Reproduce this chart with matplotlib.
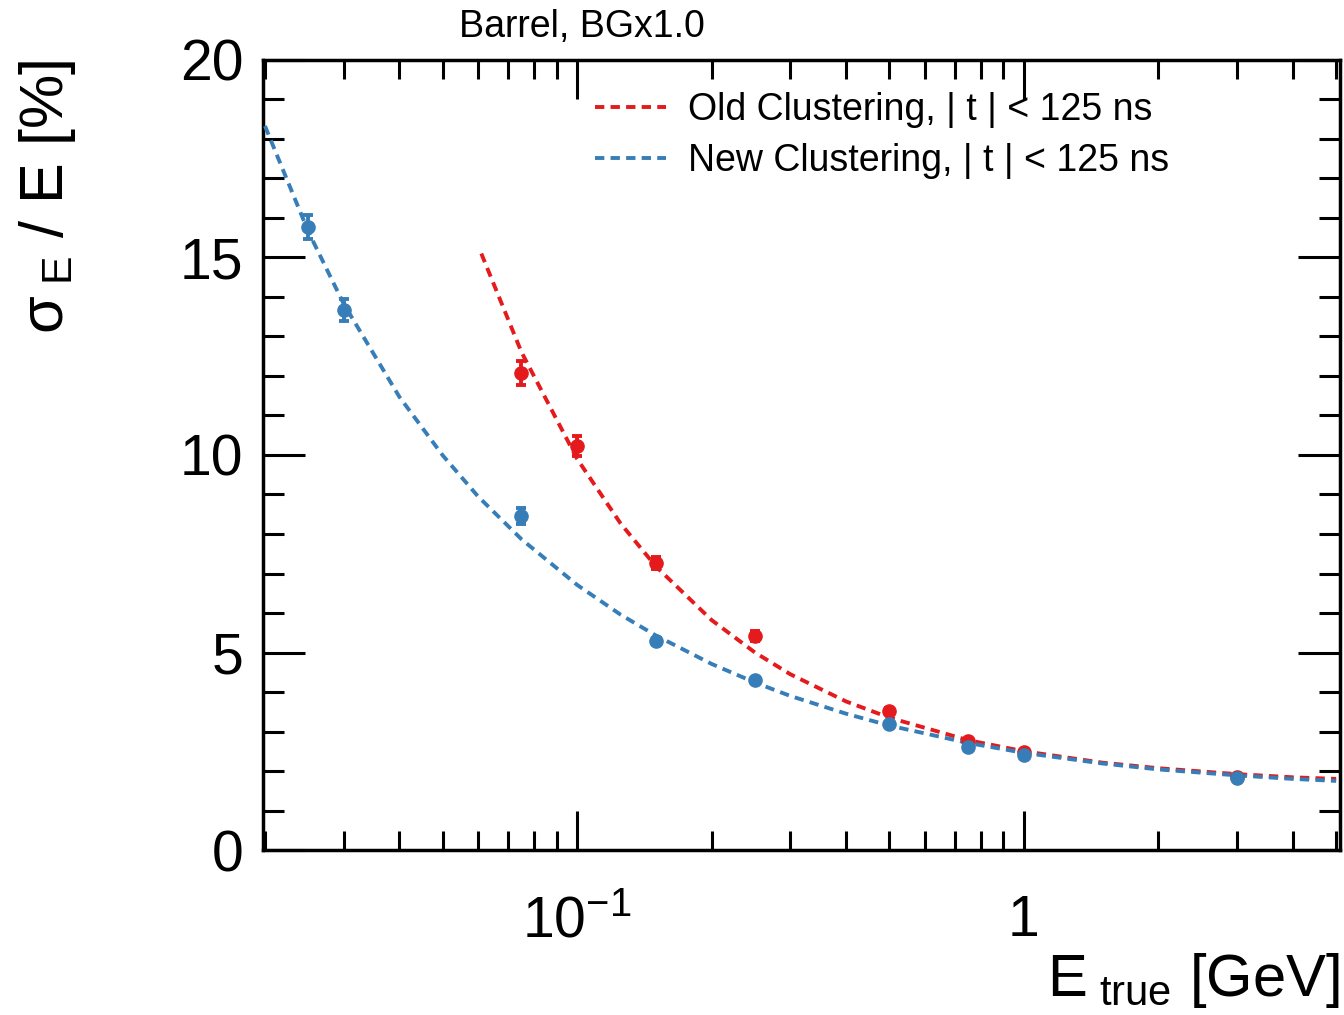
import numpy as np
import matplotlib
matplotlib.use('Agg')
import matplotlib.pyplot as plt
from matplotlib.ticker import FixedLocator, FixedFormatter, LogLocator, NullFormatter, MultipleLocator

plt.rcParams['font.family'] = ['Liberation Sans', 'DejaVu Sans']
plt.rcParams['mathtext.fontset'] = 'custom'
plt.rcParams['mathtext.rm'] = 'Liberation Sans'
plt.rcParams['mathtext.it'] = 'Liberation Sans'

# 数据点 (能量 GeV, 分辨率 %)
e_old = [0.075, 0.1, 0.15, 0.25, 0.5, 0.75, 1.0, 3.0]
res_old = [12.08, 10.23, 7.27, 5.42, 3.52, 2.76, 2.48, 1.85]
err_old = [0.30, 0.25, 0.15, 0.13, 0.08, 0.06, 0.05, 0.04]

e_new = [0.025, 0.03, 0.075, 0.15, 0.25, 0.5, 0.75, 1.0, 3.0]
res_new = [15.77, 13.67, 8.46, 5.29, 4.30, 3.19, 2.61, 2.41, 1.82]
err_new = [0.30, 0.28, 0.20, 0.08, 0.06, 0.05, 0.04, 0.04, 0.03]

# 拟合曲线
fit_e_old = [0.061, 0.075, 0.1, 0.125, 0.15, 0.2, 0.25, 0.3, 0.4, 0.5, 0.75, 1.0, 1.5, 2.0, 3.0, 4.0, 5.0]
fit_old = [15.1, 12.61, 9.90, 8.27, 7.18, 5.82, 5.00, 4.45, 3.76, 3.35, 2.78, 2.50, 2.21, 2.07, 1.92, 1.84, 1.80]

fit_e_new = [0.02, 0.025, 0.03, 0.04, 0.05, 0.06, 0.075, 0.1, 0.125, 0.15, 0.2, 0.25, 0.3, 0.4, 0.5, 0.75, 1.0, 1.5, 2.0, 3.0, 4.0, 5.0]
fit_new = [18.33, 15.66, 13.83, 11.47, 9.99, 8.95, 7.87, 6.71, 5.96, 5.43, 4.71, 4.24, 3.90, 3.45, 3.15, 2.71, 2.46, 2.19, 2.04, 1.89, 1.80, 1.75]

red = '#e41a1c'
blue = '#377eb8'

fig = plt.figure(figsize=(13.44, 10.15), dpi=100)
ax = fig.add_axes([263/1344, 1-850/1015, (1340-263)/1344, (850-60)/1015])

dash = (0, (2.4, 1.6))
ax.plot(fit_e_old, fit_old, color=red, lw=2.8, ls=dash, label='Old Clustering, | t | < 125 ns', zorder=3)
ax.plot(fit_e_new, fit_new, color=blue, lw=2.8, ls=dash, label='New Clustering, | t | < 125 ns', zorder=3)
ax.errorbar(e_old, res_old, yerr=err_old, fmt='o', color=red, ms=9.5, elinewidth=2.8, capsize=3.5, capthick=2.8, zorder=4)
ax.errorbar(e_new, res_new, yerr=err_new, fmt='o', color=blue, ms=9.5, elinewidth=2.8, capsize=3.5, capthick=2.8, zorder=5)

ax.set_xscale('log')
ax.set_xlim(0.0198, 5.1)
ax.set_ylim(0, 20)

ax.xaxis.set_major_locator(FixedLocator([0.1, 1]))
ax.xaxis.set_major_formatter(FixedFormatter([r'$10^{-1}$', '1']))
ax.xaxis.set_minor_locator(LogLocator(base=10, subs=np.arange(2, 10)))
ax.xaxis.set_minor_formatter(NullFormatter())
ax.yaxis.set_major_locator(MultipleLocator(5))
ax.yaxis.set_minor_locator(MultipleLocator(1))

ax.tick_params(which='both', direction='in', top=True, right=True, width=2.2, labelsize=41)
ax.tick_params(axis='y', which='major', length=30, pad=14)
ax.tick_params(axis='y', which='minor', length=15)
ax.tick_params(axis='x', which='major', length=28, pad=32)
ax.tick_params(axis='x', which='minor', length=14)
for s in ax.spines.values():
    s.set_linewidth(2.5)

fig.text(0.997, 0.005, r'E$_{\mathrm{\ true}}$ [GeV]', ha='right', va='bottom', fontsize=43)
fig.text(0.035, 1-60/1015, r'$\sigma_{\mathrm{\ E}}$ / E [%]', rotation=90, ha='center', va='top', fontsize=44)
fig.text(459/1344, 1-45/1015, 'Barrel, BGx1.0', ha='left', va='bottom', fontsize=27)

leg = ax.legend(loc='upper left', bbox_to_anchor=(0.308, 0.959), frameon=False, fontsize=27,
                handlelength=1.9, handletextpad=0.6, labelspacing=0.4, borderpad=0, borderaxespad=0)

fig.savefig('out.png', dpi=100)
